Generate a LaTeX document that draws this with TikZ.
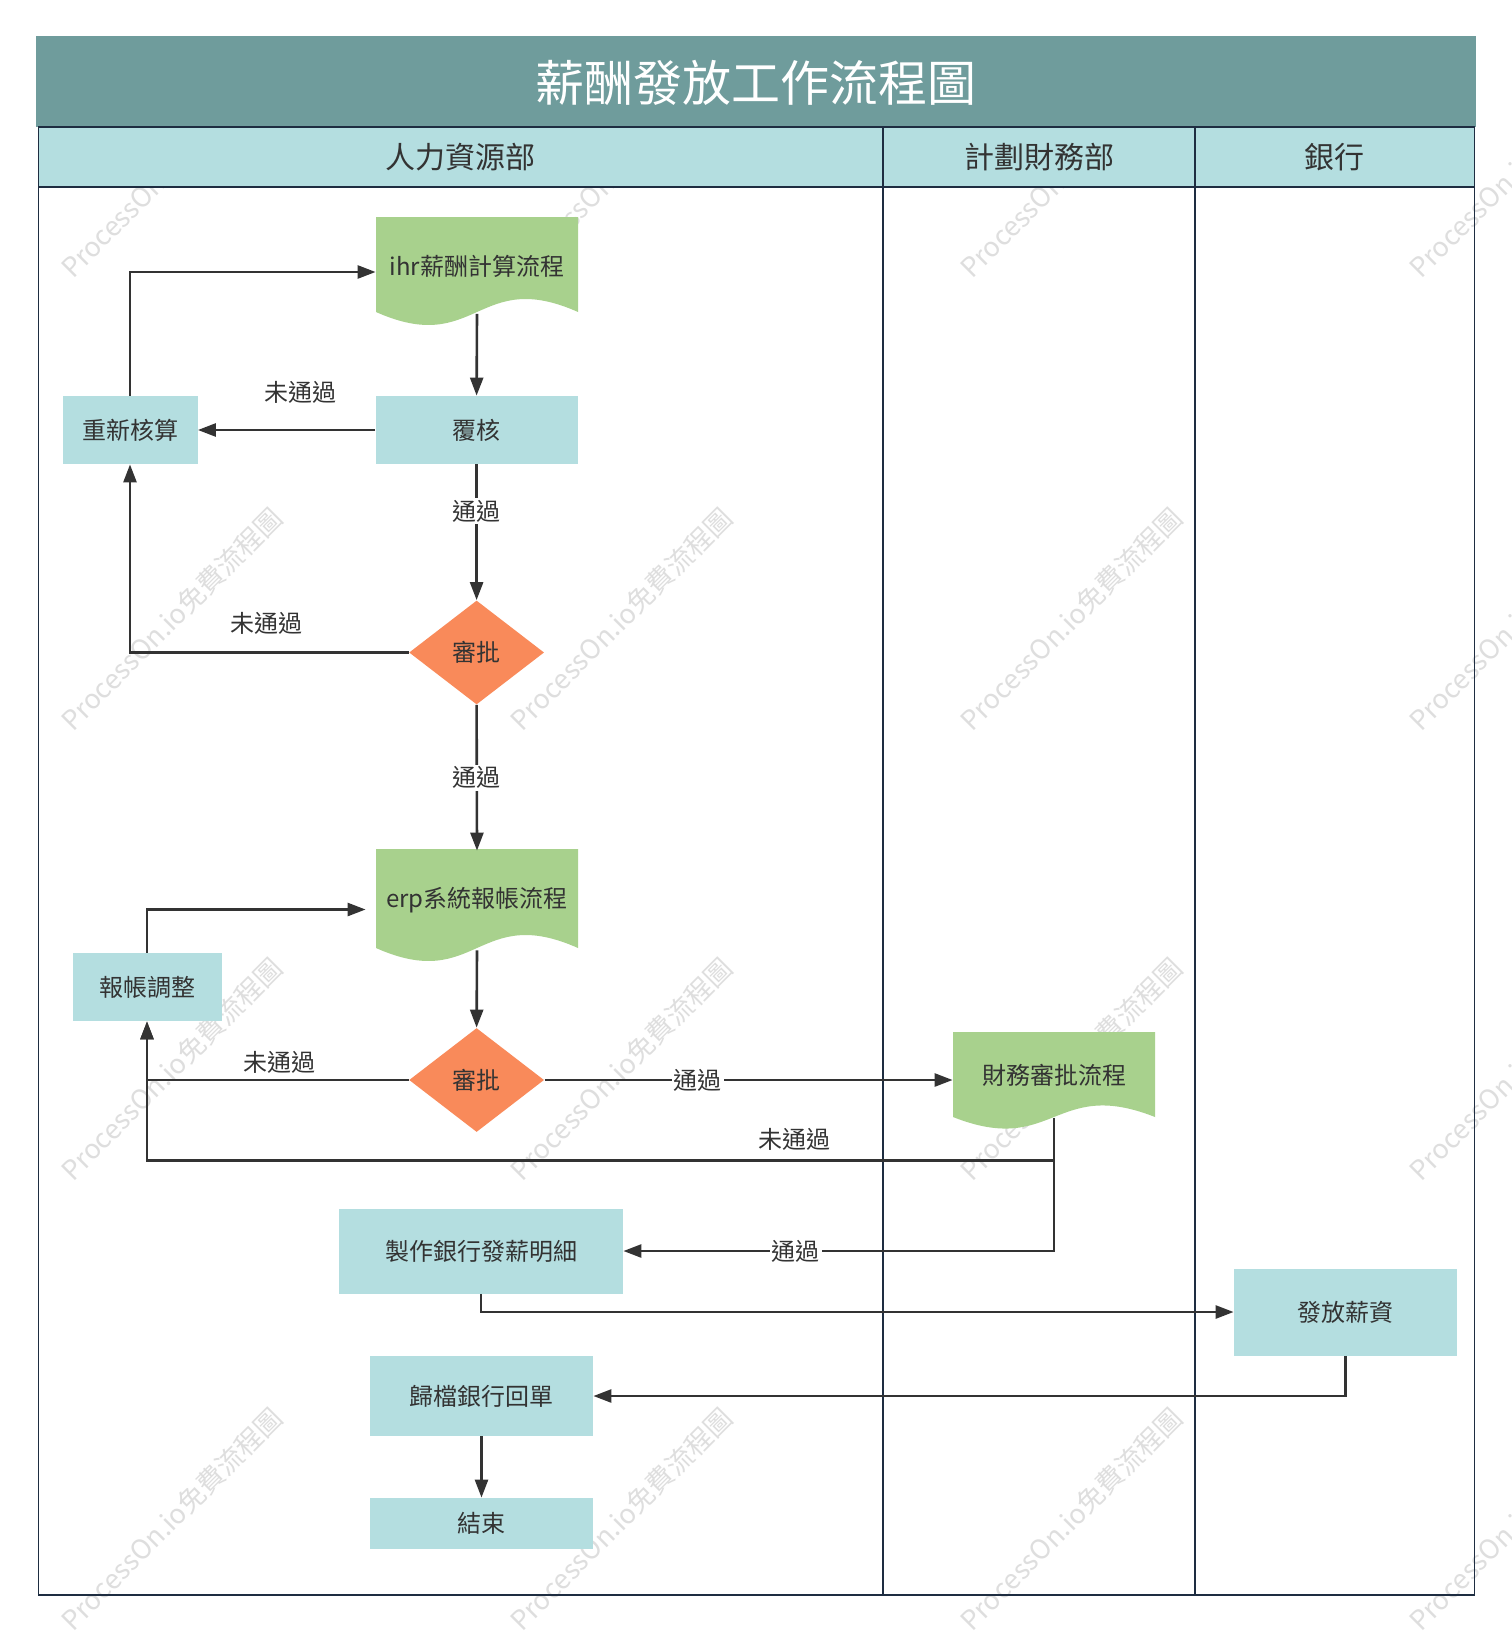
\documentclass[tikz,border=0pt]{standalone}
\usepackage{fontspec}
\setmainfont{Noto Sans CJK TC}
\usetikzlibrary{arrows.meta,calc,shapes.geometric}
\definecolor{titlebg}{RGB}{111,156,156}
\definecolor{headbg}{RGB}{180,222,224}
\definecolor{boxbg}{RGB}{180,222,224}
\definecolor{docgreen}{RGB}{168,209,141}
\definecolor{diafill}{RGB}{249,138,90}
\definecolor{laneline}{RGB}{30,45,65}
\definecolor{ink}{RGB}{51,51,51}
\begin{document}
\begin{tikzpicture}[x=0.5pt,y=-0.5pt,
  conn/.style={draw=ink, line width=1.3pt, -{Triangle[length=9pt,width=6.5pt]}},
  lanes/.style={draw=laneline, line width=0.8pt},
  txt/.style={text=ink, font=\fontsize{12pt}{14pt}\selectfont},
  boxs/.style={txt, rectangle, fill=boxbg, inner sep=0pt},
  docs/.style={txt, rectangle, inner sep=0pt, minimum width=101pt},
  dias/.style={txt, diamond, fill=diafill, minimum width=67.5pt, minimum height=52pt, inner sep=0pt},
  lbl/.style={txt, inner sep=1pt},
  lblw/.style={lbl, fill=white},
  wm/.style={text=black!13, font=\fontsize{13.5pt}{16pt}\selectfont, rotate=45},
  head/.style={text=ink, font=\fontsize{15pt}{18pt}\selectfont}
]
\useasboundingbox (0,0) rectangle (1511,1632);
\fill[white] (0,0) rectangle (1511,1632);

% watermarks
\begin{scope}
\clip (0,0) rectangle (1511,1632);
\foreach \i/\xx in {1/171.7,2/621,3/1071,4/1520}{
  \foreach \j/\yy in {1/166.5,2/619,3/1069,4/1519}{
    \node[wm] (wm-\i-\j) at (\xx,\yy) {ProcessOn.io免費流程圖};
  }
}
\end{scope}

% title and lanes
\fill[titlebg] (36,36) rectangle (1476,127);
\node[text=white, font=\fontsize{24.5pt}{28pt}\selectfont] (title) at (756,83) {薪酬發放工作流程圖};
\draw[lanes, fill=headbg] (38.5,127) rectangle (883,187);
\draw[lanes, fill=headbg] (883,127) rectangle (1195,187);
\draw[lanes, fill=headbg] (1195,127) rectangle (1474.5,187);
\draw[lanes] (38.5,187) rectangle (883,1595);
\draw[lanes] (883,187) rectangle (1195,1595);
\draw[lanes] (1195,187) rectangle (1474.5,1595);
\node[head] (h1) at (460.7,157) {人力資源部};
\node[head] (h2) at (1039,157) {計劃財務部};
\node[head] (h3) at (1334.7,157) {銀行};

% document shapes
\fill[docgreen] (376,217) -- (578,217) -- (578,312) .. controls (477,267) and (477,357) .. (376,312) -- cycle;
\fill[docgreen] (376,849) -- (578,849) -- (578,948) .. controls (477,903) and (477,993) .. (376,948) -- cycle;
\fill[docgreen] (953,1032) -- (1155,1032) -- (1155,1117) .. controls (1054,1077) and (1054,1157) .. (953,1117) -- cycle;

% nodes
\node[docs, minimum height=47.5pt] (ihr) at (477,266) {ihr薪酬計算流程};
\node[boxs, minimum width=101pt, minimum height=34pt] (fh) at (476.6,430) {覆核};
\node[boxs, minimum width=67.5pt, minimum height=34pt] (rc) at (130,430) {重新核算};
\node[dias] (sp1) at (476.6,652.5) {審批};
\node[docs, minimum height=49.5pt] (erp) at (477,900.5) {erp系統報帳流程};
\node[boxs, minimum width=74.5pt, minimum height=34pt] (bz) at (147,987) {報帳調整};
\node[dias] (sp2) at (476.6,1080) {審批};
\node[docs, minimum height=42.5pt] (cw) at (1054,1075) {財務審批流程};
\node[boxs, minimum width=142pt, minimum height=42.5pt] (mk) at (481,1251) {製作銀行發薪明細};
\node[boxs, minimum width=111.5pt, minimum height=43.5pt] (ff) at (1345.5,1312) {發放薪資};
\node[boxs, minimum width=111.5pt, minimum height=40pt] (gd) at (481.5,1396) {歸檔銀行回單};
\node[boxs, minimum width=111.5pt, minimum height=25.5pt] (js) at (481.5,1523.5) {結束};

% connectors
\draw[conn] (rc.north) |- ($(ihr.west)+(0,6)$);
\draw[conn] (ihr.south) -- (fh.north);
\draw[conn] (fh.west) -- node[lbl, pos=0.42, yshift=19pt] (l1) {未通過} (rc.east);
\draw[conn] (fh.south) -- node[lblw, pos=0.344] (l2) {通過} (sp1.north);
\draw[conn] (sp1.west) -| node[lbl, pos=0.256, yshift=14.75pt] (l3) {未通過} (rc.south);
\draw[conn] (sp1.south) -- node[lblw, pos=0.5] (l4) {通過} (erp.north);
\draw[conn] (bz.north) |- ($(erp.west)+(-10,9)$);
\draw[conn] (erp.south) -- (sp2.north);
\draw[conn] (sp2.west) -| node[lbl, pos=0.246, yshift=8.75pt] (l5) {未通過} (bz.south);
\draw[conn] (sp2.east) -- node[lblw, pos=0.376] (l6) {通過} (sp2.east -| cw.west);
\draw[conn] (cw.south) |- node[lbl, pos=0.643, yshift=10.75pt] (l7) {未通過} ($(bz.south)+(0,139)$) -- (bz.south);
\draw[conn] (cw.south) |- node[lblw, pos=0.80] (l8) {通過} (mk.east);
\draw[conn] (mk.south) |- (ff.west);
\draw[conn] (ff.south) |- (gd.east);
\draw[conn] (gd.south) -- (js.north);
\end{tikzpicture}
\end{document}
